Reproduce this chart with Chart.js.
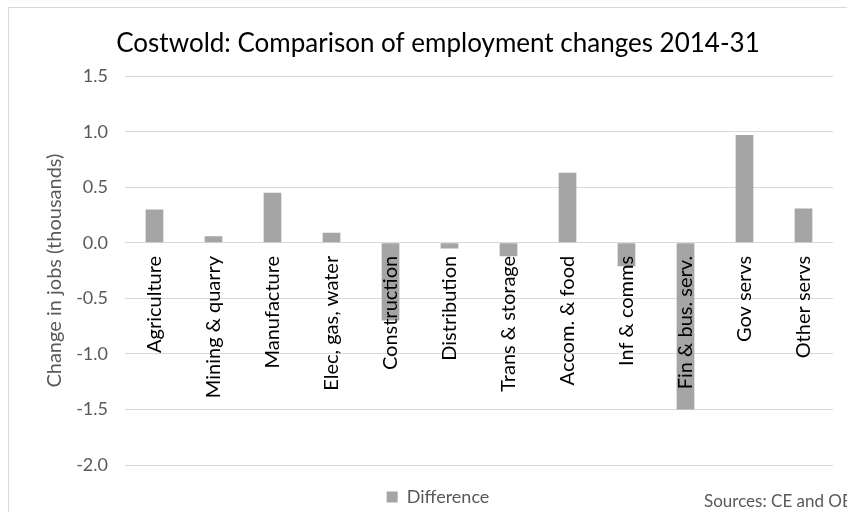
<!DOCTYPE html>
<html>
<head>
<meta charset="utf-8">
<script src="https://cdn.jsdelivr.net/npm/chart.js@4"></script>
<style>
  html, body { margin: 0; padding: 0; background: #fff; overflow: hidden; }
  #wrap { position: absolute; left: 0; top: 0; width: 847px; height: 512px; }
  #frame { position: absolute; left: 8px; top: 7px; width: 900px; height: 600px; border: 1px solid #d9d9d9; pointer-events: none; }
</style>
</head>
<body>
<div id="frame"></div>
<div id="wrap"><canvas id="c" width="847" height="512"></canvas></div>
<script>
const categories = ["Agriculture", "Mining & quarry", "Manufacture", "Elec, gas, water", "Construction", "Distribution", "Trans & storage", "Accom. & food", "Inf & comms", "Fin & bus. serv.", "Gov servs", "Other servs"];
const difference = [0.30, 0.06, 0.45, 0.09, -0.70, -0.05, -0.12, 0.63, -0.21, -1.50, 0.97, 0.31];
const yTicks = [-2.0, -1.5, -1.0, -0.5, 0.0, 0.5, 1.0, 1.5];

const FONT = "Lato, 'Open Sans', sans-serif";

const sourcesPlugin = {
  id: 'sources',
  afterDraw(chart) {
    const ctx = chart.ctx;
    ctx.save();
    ctx.font = "17px " + FONT;
    ctx.fillStyle = '#595959';
    ctx.textBaseline = 'middle';
    ctx.textAlign = 'left';
    ctx.fillText('Sources: CE and OE', 704, 502);
    ctx.restore();
  }
};

new Chart(document.getElementById('c'), {
  type: 'bar',
  data: {
    labels: categories,
    datasets: [{
      label: 'Difference',
      data: difference,
      backgroundColor: '#a5a5a5',
      borderWidth: 0,
      barPercentage: 0.3,
      categoryPercentage: 1.0
    }]
  },
  options: {
    responsive: false,
    animation: false,
    layout: { padding: { left: 43, right: 14, top: 24, bottom: -4 } },
    plugins: {
      title: {
        display: true,
        text: 'Costwold: Comparison of employment changes 2014-31',
        color: '#000',
        font: { family: FONT, size: 26, weight: 'normal' },
        padding: { top: 4, bottom: 17 }
      },
      legend: {
        display: true,
        position: 'bottom',
        labels: {
          color: '#595959',
          font: { family: FONT, size: 18 },
          boxWidth: 11,
          boxHeight: 11,
          padding: 23
        }
      },
      tooltip: { enabled: false }
    },
    scales: {
      x: {
        position: { y: 0 },
        grid: { display: false, drawTicks: false },
        border: { display: false },
        ticks: {
          z: 1,
          color: '#000',
          font: { family: FONT, size: 20 },
          minRotation: 90,
          maxRotation: 90,
          autoSkip: false,
          padding: 13
        }
      },
      y: {
        min: -2.0,
        max: 1.5,
        afterBuildTicks(scale) { scale.ticks = yTicks.map(v => ({ value: v })); },
        afterFit(scale) { scale.width = 82; },
        grid: { color: '#d9d9d9', drawTicks: false, lineWidth: 1 },
        border: { display: false },
        ticks: {
          color: '#595959',
          font: { family: FONT, size: 18 },
          padding: 17,
          callback: v => Number(v).toFixed(1)
        },
        title: {
          display: true,
          text: 'Change in jobs (thousands)',
          color: '#595959',
          font: { family: FONT, size: 20 },
          padding: { top: 0, bottom: 9 }
        }
      }
    }
  },
  plugins: [sourcesPlugin]
});
</script>
</body>
</html>
